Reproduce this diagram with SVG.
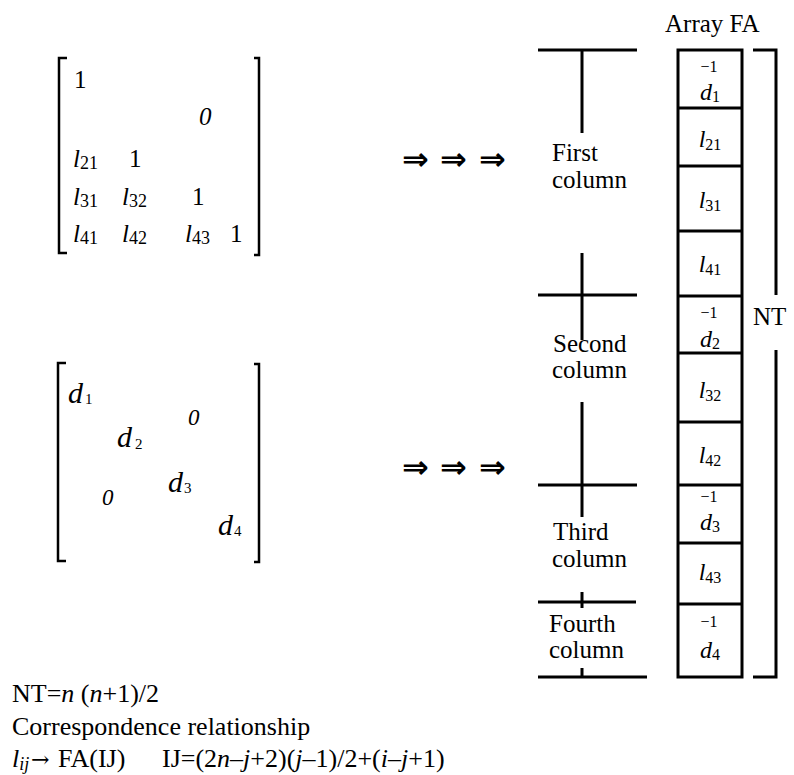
<svg xmlns="http://www.w3.org/2000/svg" width="794" height="775" viewBox="0 0 794 775" font-family="'Liberation Serif', 'Times New Roman', 'DejaVu Serif', serif">
<style>
.it{font-style:italic}
.m{font-size:25px}
.sb{font-size:18px}
.c{font-size:24px}
.cs{font-size:16px}
.lab{font-size:25px}
.f{font-size:26px}
.br{fill:none;stroke:#000;stroke-width:2.5}
.ln{fill:none;stroke:#000;stroke-width:3}
.arr{font-size:32px;font-weight:bold}
</style>
<rect width="794" height="775" fill="#fff"/>
<g id="matrixL">
<path class="br" d="M67 58H59V253H67M254 58H259V255H254"/>
<text class="m" x="74" y="88">1</text>
<text class="m it" x="199" y="125">0</text>
<text class="m" x="73" y="167"><tspan class="it">l</tspan><tspan class="sb" dy="2">21</tspan></text>
<text class="m" x="129" y="167">1</text>
<text class="m" x="73" y="205"><tspan class="it">l</tspan><tspan class="sb" dy="2">31</tspan></text>
<text class="m" x="122" y="205"><tspan class="it">l</tspan><tspan class="sb" dy="2">32</tspan></text>
<text class="m" x="192" y="205">1</text>
<text class="m" x="73" y="242"><tspan class="it">l</tspan><tspan class="sb" dy="2">41</tspan></text>
<text class="m" x="122" y="242"><tspan class="it">l</tspan><tspan class="sb" dy="2">42</tspan></text>
<text class="m" x="185" y="242"><tspan class="it">l</tspan><tspan class="sb" dy="2">43</tspan></text>
<text class="m" x="230" y="242">1</text>
</g>
<g id="matrixD">
<path class="br" d="M66 363H58V561H66M254 364H259V562H254"/>
<text x="68" y="403" font-size="30"><tspan class="it">d</tspan><tspan dx="2" dy="1" font-size="15">1</tspan></text>
<text class="it" x="188" y="425" font-size="23">0</text>
<text x="117" y="447" font-size="30"><tspan class="it">d</tspan><tspan dx="3" dy="2" font-size="15">2</tspan></text>
<text class="it" x="102" y="505" font-size="23">0</text>
<text x="168" y="492" font-size="30"><tspan class="it">d</tspan><tspan dx="1" dy="1" font-size="15">3</tspan></text>
<text x="218" y="535" font-size="30"><tspan class="it">d</tspan><tspan dx="1" dy="1" font-size="15">4</tspan></text>
</g>
<g id="arrows" font-family="'DejaVu Sans', sans-serif">
<text class="arr" x="402" y="170">⇒</text>
<text class="arr" x="440" y="170">⇒</text>
<text class="arr" x="479" y="170">⇒</text>
<text class="arr" x="402" y="478">⇒</text>
<text class="arr" x="440" y="478">⇒</text>
<text class="arr" x="479" y="478">⇒</text>
</g>
<g id="columns">
<path class="ln" d="M538 50H637M582 50V133M582 253V340M538 295H637M582 402V517M538 485H637M582 592V608M538 602H636M538 677H647M582 668V677"/>
<text class="lab" x="552" y="161">First</text>
<text class="lab" x="552" y="188">column</text>
<text class="lab" x="553" y="352">Second</text>
<text class="lab" x="552" y="378">column</text>
<text class="lab" x="553" y="540">Third</text>
<text class="lab" x="552" y="567">column</text>
<text class="lab" x="549" y="632">Fourth</text>
<text class="lab" x="549" y="658">column</text>
</g>
<g id="arrayFA">
<text class="lab" x="665" y="32">Array FA</text>
<rect class="ln" x="678" y="50" width="64" height="627"/>
<path class="ln" d="M678 108H742M678 166H742M678 231H742M678 296H742M678 353H742M678 422H742M678 485H742M678 543H742M678 604H742"/>
<g text-anchor="middle">
<text class="cs" x="709" y="72">−1</text>
<text class="c" x="710" y="100"><tspan class="it">d</tspan><tspan class="cs" dy="2">1</tspan></text>
<text class="c" x="710" y="147"><tspan class="it">l</tspan><tspan class="cs" dy="3">21</tspan></text>
<text class="c" x="710" y="208"><tspan class="it">l</tspan><tspan class="cs" dy="3">31</tspan></text>
<text class="c" x="710" y="272"><tspan class="it">l</tspan><tspan class="cs" dy="3">41</tspan></text>
<text class="cs" x="709" y="318">−1</text>
<text class="c" x="710" y="347"><tspan class="it">d</tspan><tspan class="cs" dy="2">2</tspan></text>
<text class="c" x="710" y="398"><tspan class="it">l</tspan><tspan class="cs" dy="3">32</tspan></text>
<text class="c" x="710" y="463"><tspan class="it">l</tspan><tspan class="cs" dy="3">42</tspan></text>
<text class="cs" x="709" y="502">−1</text>
<text class="c" x="710" y="530"><tspan class="it">d</tspan><tspan class="cs" dy="2">3</tspan></text>
<text class="c" x="710" y="580"><tspan class="it">l</tspan><tspan class="cs" dy="3">43</tspan></text>
<text class="cs" x="709" y="627">−1</text>
<text class="c" x="710" y="658"><tspan class="it">d</tspan><tspan class="cs" dy="2">4</tspan></text>
</g>
</g>
<g id="NT">
<path class="ln" d="M753 50H776V295M776 350V677H753"/>
<text class="lab" x="753" y="325">NT</text>
</g>
<g id="formula">
<text class="f" x="12" y="702">NT=<tspan class="it">n</tspan> (<tspan class="it">n</tspan>+1)/2</text>
<text class="f" x="12" y="735">Correspondence relationship</text>
<text class="f" x="12" y="767"><tspan class="it">l</tspan><tspan class="it" font-size="18" dy="3">ij</tspan><tspan x="31" dy="-3" font-family="'DejaVu Serif', serif" font-size="22">→</tspan><tspan x="58">FA(IJ)</tspan><tspan x="162">IJ=(2</tspan><tspan class="it">n</tspan>–<tspan class="it">j</tspan>+2)(<tspan class="it">j</tspan>–1)/2+(<tspan class="it">i</tspan>–<tspan class="it">j</tspan>+1)</text>
</g>
</svg>
